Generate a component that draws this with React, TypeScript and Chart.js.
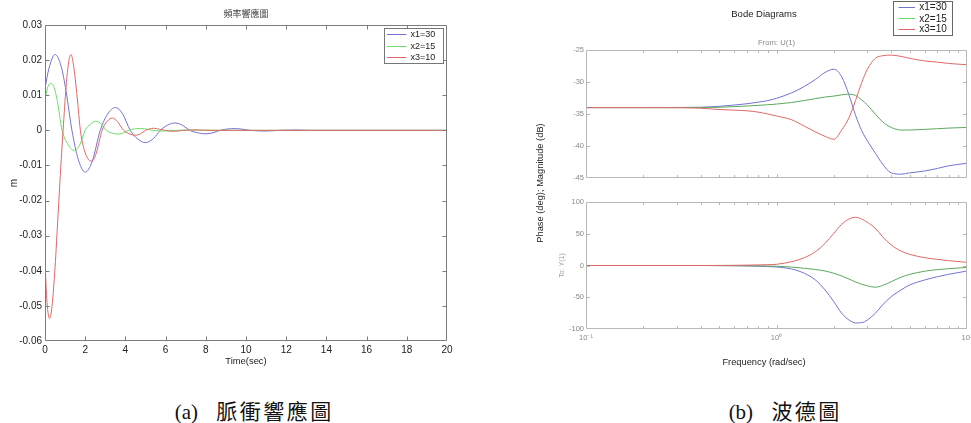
import React, { useEffect, useRef } from 'react';
import { Chart, registerables } from 'chart.js';

Chart.register(...registerables);

const SANS = "'Liberation Sans', Arial, Helvetica, sans-serif";
const CJK = "'Noto Sans CJK TC', 'Noto Sans CJK SC', sans-serif";

// ---------- series names ----------
const seriesLabels = ['x1=30', 'x2=15', 'x3=10'];

// ---------- (a) impulse response ----------
const timeX1 = [0, 0.2, 0.5, 0.8, 1.05, 1.34, 1.65, 2.0, 2.35, 2.75, 3.1, 3.5, 3.85, 4.24, 4.6, 5.0, 5.4, 5.74, 6.1, 6.48, 6.85, 7.2, 7.6, 7.97, 8.35, 8.72, 9.1, 9.47, 9.85, 10.2, 10.95, 11.7, 12.45, 13.2, 14, 20];
const respX1 = [0.012, 0.0177, 0.0216, 0.0183, 0.0111, 0, -0.0082, -0.0119, -0.0088, 0, 0.0045, 0.0065, 0.0048, 0, -0.0024, -0.0035, -0.0023, 0, 0.0015, 0.0021, 0.0014, 0, -0.0007, -0.001, -0.0007, 0, 0.0004, 0.0005, 0.0003, 0, -0.0002, 0, 0.0001, 0, 0, 0];

const timeX2 = [0, 0.15, 0.3, 0.45, 0.6, 0.85, 1.1, 1.46, 1.75, 2.0, 2.25, 2.54, 2.8, 3.05, 3.35, 3.66, 3.9, 4.15, 4.45, 4.8, 5.1, 5.35, 5.95, 6.5, 7.6, 8.5, 20];
const respX2 = [0.009, 0.0125, 0.0134, 0.0122, 0.0088, 0, -0.0036, -0.0058, -0.0039, 0, 0.0017, 0.0026, 0.0018, 0, -0.0008, -0.0011, -0.0007, 0, 0.0004, 0.0005, 0.0003, 0, -0.0002, 0, 0.0001, 0, 0];

const timeX3 = [0, 0.1, 0.23, 0.35, 0.5, 0.65, 0.8, 0.9, 1.05, 1.18, 1.29, 1.42, 1.6, 1.76, 1.95, 2.15, 2.34, 2.55, 2.84, 3.1, 3.36, 3.6, 3.91, 4.2, 4.49, 4.75, 5.0, 5.2, 5.4, 5.7, 6.0, 6.4, 6.9, 7.5, 8, 20];
const respX3 = [-0.038, -0.049, -0.0536, -0.05, -0.039, -0.024, -0.009, 0, 0.0125, 0.0195, 0.0216, 0.0185, 0.0095, 0, -0.0055, -0.0082, -0.0088, -0.0065, 0, 0.0026, 0.0035, 0.0025, 0, -0.001, -0.0014, -0.001, 0, 0.0004, 0.0006, 0.0003, 0, -0.0003, 0, 0.0001, 0, 0];

// ---------- (b) Bode ----------
const freq = [0.1, 0.2, 0.3, 0.4, 0.5, 0.6, 0.7, 0.8, 0.9, 1.0, 1.2, 1.4, 1.6, 1.8, 2.0, 2.2, 2.4, 2.6, 2.8, 3.0, 3.3, 3.6, 4.0, 4.5, 5, 6, 7, 8, 10];
const magX1 = [-34, -34, -33.98, -33.95, -33.8, -33.6, -33.4, -33.15, -32.9, -32.55, -31.7, -30.7, -29.6, -28.5, -28.0, -29.2, -32.0, -35.2, -37.6, -39.2, -41.1, -42.8, -44.2, -44.4, -44.2, -43.9, -43.5, -43.1, -42.7];
const magX2 = [-34, -34, -34, -33.98, -33.95, -33.85, -33.75, -33.65, -33.55, -33.45, -33.2, -32.9, -32.6, -32.35, -32.2, -32.0, -31.9, -32.1, -32.8, -33.6, -35.0, -36.2, -37.1, -37.5, -37.5, -37.4, -37.3, -37.2, -37.1];
const magX3 = [-34, -34, -34.02, -34.1, -34.3, -34.4, -34.5, -34.7, -35.0, -35.3, -35.9, -36.9, -37.8, -38.5, -38.95, -37.5, -35.6, -32.9, -30.1, -28.0, -26.3, -25.9, -25.8, -26.0, -26.3, -26.7, -26.9, -27.1, -27.3];
const phaseX1 = [0, 0, 0, 0, -0.2, -0.4, -0.7, -1.1, -1.6, -2.4, -5.5, -12.3, -22.8, -38.6, -57, -75.3, -85.8, -90.5, -90.0, -85.8, -75.3, -62.2, -49.1, -38.6, -30.7, -22.8, -17.6, -13.9, -8.7];
const phaseX2 = [0, 0, 0, 0, -0.1, -0.2, -0.4, -0.6, -0.8, -1.1, -2.5, -4.4, -6.3, -8.7, -12.3, -16.5, -21.3, -26.0, -29.5, -32.0, -34.2, -31.5, -25.5, -18.5, -14.0, -9.0, -6.5, -5.0, -3.0];
const phaseX3 = [0, 0, 0, 0, 0.1, 0.3, 0.6, 0.9, 1.3, 1.9, 6, 12.3, 21.7, 35, 50.7, 64.9, 73.2, 75.9, 73.2, 68, 58.6, 45.4, 32.3, 22.8, 17.6, 12.3, 9.7, 7.6, 5.0];

const decadeTicks = [0.1, 1, 10];
const decadeLabels = ['10\u207B\u00B9', '10\u2070', '10\u00B9'];
const minorFreqTicks = [0.2, 0.3, 0.4, 0.5, 0.6, 0.7, 0.8, 0.9, 2, 3, 4, 5, 6, 7, 8, 9];

const BLUE = '#7272d2';
const GREEN_L = '#6ade6a';
const GREEN_R = '#5ca85c';
const RED = '#de6868';

// ---------- plugins ----------
function makeFrame(cfg: { color: string; len: number; xMajor?: number[]; xMinor?: number[]; minorLen?: number }) {
  return {
    id: 'frame',
    afterDatasetsDraw(chart: any) {
      const { ctx, chartArea: a, scales } = chart;
      const xs = scales.x;
      const ys = scales.y;
      const L = Math.round(a.left) + 0.5;
      const R = Math.round(a.right) - 0.5;
      const T = Math.round(a.top) + 0.5;
      const B = Math.round(a.bottom) - 0.5;
      ctx.save();
      ctx.strokeStyle = cfg.color;
      ctx.lineWidth = 1;
      ctx.beginPath();
      ctx.rect(L, T, R - L, B - T);
      const xt = (v: number, len: number) => {
        const p = Math.round(xs.getPixelForValue(v)) + 0.5;
        if (p <= L + 1 || p >= R - 1) return;
        ctx.moveTo(p, B); ctx.lineTo(p, B - len);
        ctx.moveTo(p, T); ctx.lineTo(p, T + len);
      };
      const yt = (v: number, len: number) => {
        const p = Math.round(ys.getPixelForValue(v)) + 0.5;
        if (p <= T + 1 || p >= B - 1) return;
        ctx.moveTo(L, p); ctx.lineTo(L + len, p);
        ctx.moveTo(R, p); ctx.lineTo(R - len, p);
      };
      const majors = cfg.xMajor ?? xs.ticks.map((t: any) => t.value);
      majors.forEach((v: number) => xt(v, cfg.len));
      (cfg.xMinor ?? []).forEach((v: number) => xt(v, cfg.minorLen ?? cfg.len));
      ys.ticks.forEach((t: any) => yt(t.value, cfg.len));
      ctx.stroke();
      ctx.restore();
    },
  };
}

type TextItem = { text: string; x: number; y: number; size: number; family: string; color: string; rotate?: number };
function makeTexts(items: TextItem[]) {
  return {
    id: 'texts',
    afterDraw(chart: any) {
      const ctx = chart.ctx;
      items.forEach((it) => {
        ctx.save();
        ctx.font = `${it.size}px ${it.family}`;
        ctx.fillStyle = it.color;
        ctx.textAlign = 'center';
        ctx.textBaseline = 'middle';
        ctx.translate(it.x, it.y);
        if (it.rotate) ctx.rotate(it.rotate);
        ctx.fillText(it.text, 0, 0);
        ctx.restore();
      });
    },
  };
}

function makeLegend(cfg: { x: number; y: number; w: number; h: number; rows: number[]; lx1: number; lx2: number; tx: number; size: number; colors: string[]; border: string }) {
  return {
    id: 'boxLegend',
    afterDraw(chart: any) {
      const ctx = chart.ctx;
      ctx.save();
      ctx.fillStyle = '#ffffff';
      ctx.fillRect(cfg.x, cfg.y, cfg.w, cfg.h);
      ctx.strokeStyle = cfg.border;
      ctx.lineWidth = 1;
      ctx.strokeRect(Math.round(cfg.x) + 0.5, Math.round(cfg.y) + 0.5, Math.round(cfg.w), Math.round(cfg.h));
      ctx.font = `${cfg.size}px ${SANS}`;
      ctx.textAlign = 'left';
      ctx.textBaseline = 'middle';
      chart.data.datasets.forEach((ds: any, i: number) => {
        const y = Math.round(cfg.rows[i]) + 0.5;
        ctx.strokeStyle = cfg.colors[i];
        ctx.beginPath();
        ctx.moveTo(cfg.lx1, y);
        ctx.lineTo(cfg.lx2, y);
        ctx.stroke();
        ctx.fillStyle = '#222';
        ctx.fillText(ds.label, cfg.tx, cfg.rows[i] + 0.5);
      });
      ctx.restore();
    },
  };
}

const pts = (xs: number[], ys: number[]) => xs.map((x, i) => ({ x, y: ys[i] }));

function lineDs(label: string, data: any[], color: string, order: number) {
  return {
    label,
    data,
    borderColor: color,
    backgroundColor: color,
    borderWidth: 1,
    pointRadius: 0,
    fill: false,
    cubicInterpolationMode: 'monotone' as const,
    order,
  };
}

function leftConfig(): any {
  return {
    type: 'line',
    data: {
      datasets: [
        lineDs(seriesLabels[0], pts(timeX1, respX1), BLUE, 2),
        lineDs(seriesLabels[1], pts(timeX2, respX2), GREEN_L, 1),
        lineDs(seriesLabels[2], pts(timeX3, respX3), RED, 0),
      ],
    },
    options: {
      animation: false,
      responsive: false,
      events: [],
      layout: { padding: { left: 0, right: 33, top: 25, bottom: 0 } },
      plugins: { legend: { display: false }, tooltip: { enabled: false }, title: { display: false } },
      scales: {
        x: {
          type: 'linear',
          min: 0,
          max: 20,
          ticks: { stepSize: 2, autoSkip: false, maxRotation: 0, padding: 3, color: '#222', font: { size: 10, family: SANS } },
          grid: { display: false, drawTicks: false },
          border: { display: false },
          title: { display: true, text: 'Time(sec)', color: '#222', font: { size: 9.4, family: SANS }, padding: { top: 0, bottom: 12.6 } },
          afterFit: (s: any) => { s.height = 39; },
        },
        y: {
          type: 'linear',
          min: -0.06,
          max: 0.03,
          ticks: {
            stepSize: 0.01,
            padding: 3,
            color: '#222',
            font: { size: 10, family: SANS },
            callback: (v: number) => { const r = Math.round(v * 100) / 100; return r === 0 ? '0' : String(r); },
          },
          grid: { display: false, drawTicks: false },
          border: { display: false },
          title: { display: true, text: 'm', color: '#222', font: { size: 10, family: SANS }, padding: { top: 8, bottom: 0 } },
          afterFit: (s: any) => { s.width = 45; },
        },
      },
    },
    plugins: [
      makeFrame({ color: '#7c7c7c', len: 4 }),
      makeTexts([{ text: '頻率響應圖', x: 246, y: 14, size: 9, family: CJK, color: '#444' }]),
      makeLegend({ x: 384, y: 28, w: 59, h: 35, rows: [34.3, 46, 57.3], lx1: 387, lx2: 406.5, tx: 410.5, size: 9, colors: [BLUE, GREEN_L, RED], border: '#777' }),
    ],
  };
}

function logX(display: boolean, extra: any = {}) {
  return {
    type: 'logarithmic',
    min: 0.1,
    max: 10,
    display,
    afterBuildTicks: (s: any) => { s.ticks = decadeTicks.map((v) => ({ value: v, major: true })); },
    ticks: {
      autoSkip: false,
      maxRotation: 0,
      padding: 4,
      color: '#8a8a8a',
      font: { size: 7.5, family: SANS },
      callback: (_v: number, i: number) => decadeLabels[i],
    },
    grid: { display: false, drawTicks: false },
    border: { display: false },
    ...extra,
  };
}

function magConfig(): any {
  return {
    type: 'line',
    data: {
      datasets: [
        lineDs(seriesLabels[0], pts(freq, magX1), BLUE, 2),
        lineDs(seriesLabels[1], pts(freq, magX2), GREEN_R, 1),
        lineDs(seriesLabels[2], pts(freq, magX3), RED, 0),
      ],
    },
    options: {
      animation: false,
      responsive: false,
      events: [],
      layout: { padding: { left: 0, right: 4, top: 50, bottom: 12 } },
      plugins: { legend: { display: false }, tooltip: { enabled: false }, title: { display: false } },
      scales: {
        x: logX(false, { afterFit: (s: any) => { s.height = 0; } }),
        y: {
          type: 'linear',
          min: -45,
          max: -25,
          ticks: { stepSize: 5, padding: 2, color: '#8a8a8a', font: { size: 7.5, family: SANS } },
          grid: { display: false, drawTicks: false },
          border: { display: false },
          afterFit: (s: any) => { s.width = 106; },
        },
      },
    },
    plugins: [
      makeFrame({ color: '#b8b8b8', len: 3.5, xMajor: [1], xMinor: minorFreqTicks, minorLen: 2.5 }),
      makeTexts([
        { text: 'Bode Diagrams', x: 284, y: 14, size: 9.5, family: SANS, color: '#222' },
        { text: 'From: U(1)', x: 296.5, y: 42.5, size: 7.7, family: SANS, color: '#8a8a8a' },
      ]),
      makeLegend({ x: 413, y: 1, w: 59, h: 34, rows: [6.7, 18.3, 29], lx1: 418.5, lx2: 435, tx: 439.3, size: 10, colors: [BLUE, GREEN_L, RED], border: '#666' }),
    ],
  };
}

function phaseConfig(): any {
  return {
    type: 'line',
    data: {
      datasets: [
        lineDs(seriesLabels[0], pts(freq, phaseX1), BLUE, 2),
        lineDs(seriesLabels[1], pts(freq, phaseX2), GREEN_R, 1),
        lineDs(seriesLabels[2], pts(freq, phaseX3), RED, 0),
      ],
    },
    options: {
      animation: false,
      responsive: false,
      events: [],
      layout: { padding: { left: 0, right: 4, top: 202, bottom: 0 } },
      plugins: { legend: { display: false }, tooltip: { enabled: false }, title: { display: false } },
      scales: {
        x: logX(true, { afterFit: (s: any) => { s.height = 51; s.paddingLeft = 0; s.paddingRight = 0; } }),
        y: {
          type: 'linear',
          min: -100,
          max: 100,
          ticks: { stepSize: 50, padding: 2, color: '#8a8a8a', font: { size: 7.5, family: SANS } },
          grid: { display: false, drawTicks: false },
          border: { display: false },
          title: { display: true, text: 'To: Y(1)', color: '#9a9a9a', font: { size: 7, family: SANS }, padding: { top: 77.8, bottom: 0 } },
          afterFit: (s: any) => { s.width = 106; },
        },
      },
    },
    plugins: [
      makeFrame({ color: '#b8b8b8', len: 3.5, xMajor: [1], xMinor: minorFreqTicks, minorLen: 2.5 }),
      makeTexts([
        { text: 'Phase (deg); Magnitude (dB)', x: 60, y: 183, size: 9.3, family: SANS, color: '#222', rotate: -Math.PI / 2 },
        { text: 'Frequency (rad/sec)', x: 284, y: 362, size: 9.3, family: SANS, color: '#222' },
      ]),
    ],
  };
}

const captionStyle = (cx: number): React.CSSProperties => ({
  position: 'absolute',
  left: cx,
  top: 399,
  transform: 'translateX(-50%)',
  whiteSpace: 'nowrap',
  fontFamily: "'Liberation Serif', 'Times New Roman', 'Noto Sans CJK TC', serif",
  fontSize: 21,
  lineHeight: '26px',
  color: '#111',
});

const cjkSpan: React.CSSProperties = { marginLeft: 13, letterSpacing: '2.5px', marginRight: -2.5 };

export default function App() {
  const leftRef = useRef<HTMLCanvasElement>(null);
  const magRef = useRef<HTMLCanvasElement>(null);
  const phaseRef = useRef<HTMLCanvasElement>(null);

  useEffect(() => {
    const charts = [
      new Chart(leftRef.current as HTMLCanvasElement, leftConfig()),
      new Chart(magRef.current as HTMLCanvasElement, magConfig()),
      new Chart(phaseRef.current as HTMLCanvasElement, phaseConfig()),
    ];
    return () => charts.forEach((c) => c.destroy());
  }, []);

  return (
    <div style={{ position: 'absolute', left: 0, top: 0, width: 971, height: 423, background: '#fff', overflow: 'hidden' }}>
      <canvas ref={leftRef} width={480} height={380} style={{ position: 'absolute', left: 0, top: 0, width: 480, height: 380 }} />
      <canvas ref={magRef} width={491} height={190} style={{ position: 'absolute', left: 480, top: 0, width: 491, height: 190 }} />
      <canvas ref={phaseRef} width={491} height={380} style={{ position: 'absolute', left: 480, top: 0, width: 491, height: 380 }} />
      <div style={captionStyle(253)}>(a) <span style={cjkSpan}>脈衝響應圖</span></div>
      <div style={captionStyle(784)}>(b) <span style={cjkSpan}>波德圖</span></div>
    </div>
  );
}
